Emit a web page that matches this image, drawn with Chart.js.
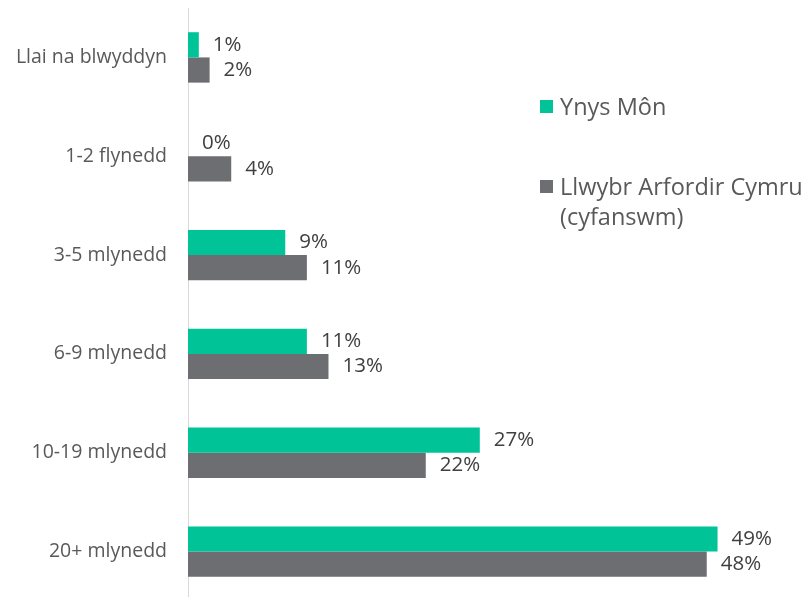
<!DOCTYPE html>
<html>
<head>
<meta charset="utf-8">
<script src="https://cdn.jsdelivr.net/npm/chart.js@4/dist/chart.umd.min.js"></script>
<style>
  html, body { margin: 0; padding: 0; background: #fff; overflow: hidden; }
  #wrap { position: relative; width: 806px; height: 602px; }
  #legend { position: absolute; left: 540px; top: 91px; font-family: "Open Sans", sans-serif; font-size: 23.5px; color: #595959; white-space: nowrap; }
  .item { position: relative; padding-left: 20px; line-height: 30px; }
  .item span.box { position: absolute; left: 0; top: 9px; width: 13px; height: 13px; }
</style>
</head>
<body>
<div id="wrap">
  <canvas id="myChart" width="806" height="602"></canvas>
  <div id="legend"></div>
</div>
<script>
const categories = ['Llai na blwyddyn', '1-2 flynedd', '3-5 mlynedd', '6-9 mlynedd', '10-19 mlynedd', '20+ mlynedd'];
const ynysMon = [1, 0, 9, 11, 27, 49];
const cymru = [2, 4, 11, 13, 22, 48];
const seriesNames = ['Ynys Môn', 'Llwybr Arfordir Cymru (cyfanswm)'];
const colours = ['#00c497', '#6d6e71'];

// value labels at the end of each bar
const barLabels = {
    id: 'barLabels',
    afterDatasetsDraw(chart) {
        const c = chart.ctx;
        c.save();
        c.font = '20.5px "Open Sans", sans-serif';
        c.fillStyle = '#404040';
        c.textAlign = 'left';
        c.textBaseline = 'middle';
        chart.data.datasets.forEach((ds, i) => {
            chart.getDatasetMeta(i).data.forEach((bar, j) => {
                c.fillText(ds.data[j] + '%', bar.x + 14, bar.y);
            });
        });
        c.restore();
    }
};

var ctx = document.getElementById('myChart').getContext('2d');
var myChart = new Chart(ctx, {
    type: 'bar',
    data: {
        labels: categories,
        datasets: [
            { label: seriesNames[0], data: ynysMon, backgroundColor: colours[0] },
            { label: seriesNames[1], data: cymru, backgroundColor: colours[1] }
        ]
    },
    options: {
        indexAxis: 'y',
        responsive: false,
        animation: false,
        categoryPercentage: 0.51,
        barPercentage: 1,
        layout: { autoPadding: false, padding: { top: 8, right: 2, bottom: 1, left: 0 } },
        plugins: { legend: { display: false }, tooltip: { enabled: false } },
        scales: {
            x: { display: false, min: 0, max: 57 },
            y: {
                afterFit(s) {
                    s.width = 188;
                    s.paddingTop = 0;
                    s.paddingBottom = 0;
                },
                grid: { display: false, drawTicks: false },
                border: { color: '#d9d9d9', width: 1 },
                ticks: { padding: 21, color: '#595959', font: { family: '"Open Sans", sans-serif', size: 19.5 } }
            }
        }
    },
    plugins: [barLabels]
});

// legend, built from the series
const lg = document.getElementById('legend');
lg.innerHTML =
    '<div class="item"><span class="box" style="background:' + colours[0] + '"></span>' + seriesNames[0] + '</div>' +
    '<div class="item" style="margin-top:50px"><span class="box" style="background:' + colours[1] + '"></span>Llwybr Arfordir Cymru<br>(cyfanswm)</div>';
</script>
</body>
</html>
